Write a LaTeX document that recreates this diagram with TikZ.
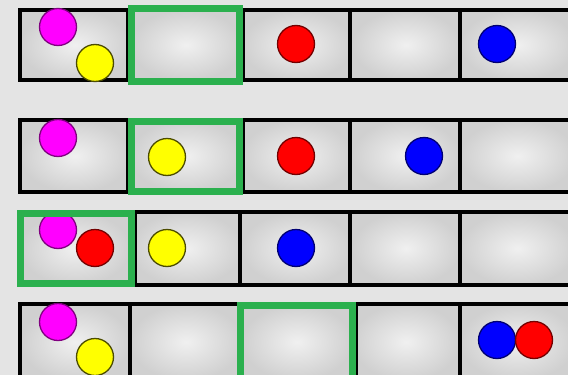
\documentclass[tikz,border=0pt]{standalone}
\begin{document}
\begin{tikzpicture}[x=1pt,y=-1pt]
\definecolor{bgc}{HTML}{E4E4E4}
\definecolor{cellin}{HTML}{F0F0F0}
\definecolor{cellout}{HTML}{D0D0D0}
\definecolor{grn}{HTML}{2BB04E}
\definecolor{mag}{HTML}{FF00FF}
\definecolor{yel}{HTML}{FFFF00}
\definecolor{rd}{HTML}{FF0000}
\definecolor{bl}{HTML}{0000FF}
\tikzset{
  blk/.style={line width=4pt, black, line join=miter},
  grbox/.style={line width=7pt, draw=grn},
  cellshade/.style={inner color=cellin, outer color=cellout},
  ball/.style={circle, minimum size=37pt, inner sep=0pt, line width=1.3pt},
  magball/.style={ball, fill=mag, draw=mag!50!black},
  yelball/.style={ball, fill=yel, draw=yel!30!black},
  redball/.style={ball, fill=rd, draw=rd!45!black},
  bluball/.style={ball, fill=bl, draw=bl!45!black}
}
\useasboundingbox (0,0) rectangle (568,375);
\fill[bgc] (0,0) rectangle (568,375);
% cells
\foreach \t/\b in {10/80,120/192,212/285,304/380}{
  \shade[cellshade] (20,\t) rectangle (130,\b);
  \shade[cellshade] (130,\t) rectangle (242,\b);
  \shade[cellshade] (242,\t) rectangle (352,\b);
  \shade[cellshade] (352,\t) rectangle (460,\b);
  \shade[cellshade] (460,\t) rectangle (575,\b);
}
% row frames
\draw[blk] (575,10) -- (20,10) -- (20,80) -- (575,80);
\draw[blk] (128,10) -- (128,80) (243,10) -- (243,80) (350,10) -- (350,80) (460,10) -- (460,80);
\draw[blk] (575,120) -- (20,120) -- (20,192) -- (575,192);
\draw[blk] (128,120) -- (128,192) (243,120) -- (243,192) (350,120) -- (350,192) (460,120) -- (460,192);
\draw[blk] (575,212) -- (20,212) -- (20,285) -- (575,285);
\draw[blk] (135,212) -- (135,285) (240,212) -- (240,285) (350,212) -- (350,285) (460,212) -- (460,285);
\draw[blk] (575,304) -- (20,304) -- (20,380) -- (575,380);
\draw[blk] (130,304) -- (130,380) (240,304) -- (240,380) (356,304) -- (356,380) (460,304) -- (460,380);
% balls
\node[magball] (m1) at (58,27) {};
\node[yelball] (y1) at (95,63) {};
\node[redball] (r1) at (296,44) {};
\node[bluball] (b1) at (497,44) {};
\node[magball] (m2) at (58,138) {};
\node[yelball] (y2) at (167,157) {};
\node[redball] (r2) at (296,156) {};
\node[bluball] (b2) at (424,156) {};
\node[magball] (m3) at (58,230) {};
\node[redball] (r3) at (95,248) {};
\node[yelball] (y3) at (167,248) {};
\node[bluball] (b3) at (296,248) {};
\node[magball] (m4) at (58,322) {};
\node[yelball] (y4) at (95,357) {};
\node[bluball] (b4) at (497,340) {};
\node[redball] (r4) at (534,340) {};
% green highlight boxes
\draw[grbox] (131.5,8.5) rectangle (239.5,81.5);
\draw[grbox] (131.5,121.5) rectangle (239.5,191.5);
\draw[grbox] (20.5,213.5) rectangle (131.5,283.5);
\draw[grbox] (240.5,305.5) rectangle (352.5,385);
\end{tikzpicture}
\end{document}
